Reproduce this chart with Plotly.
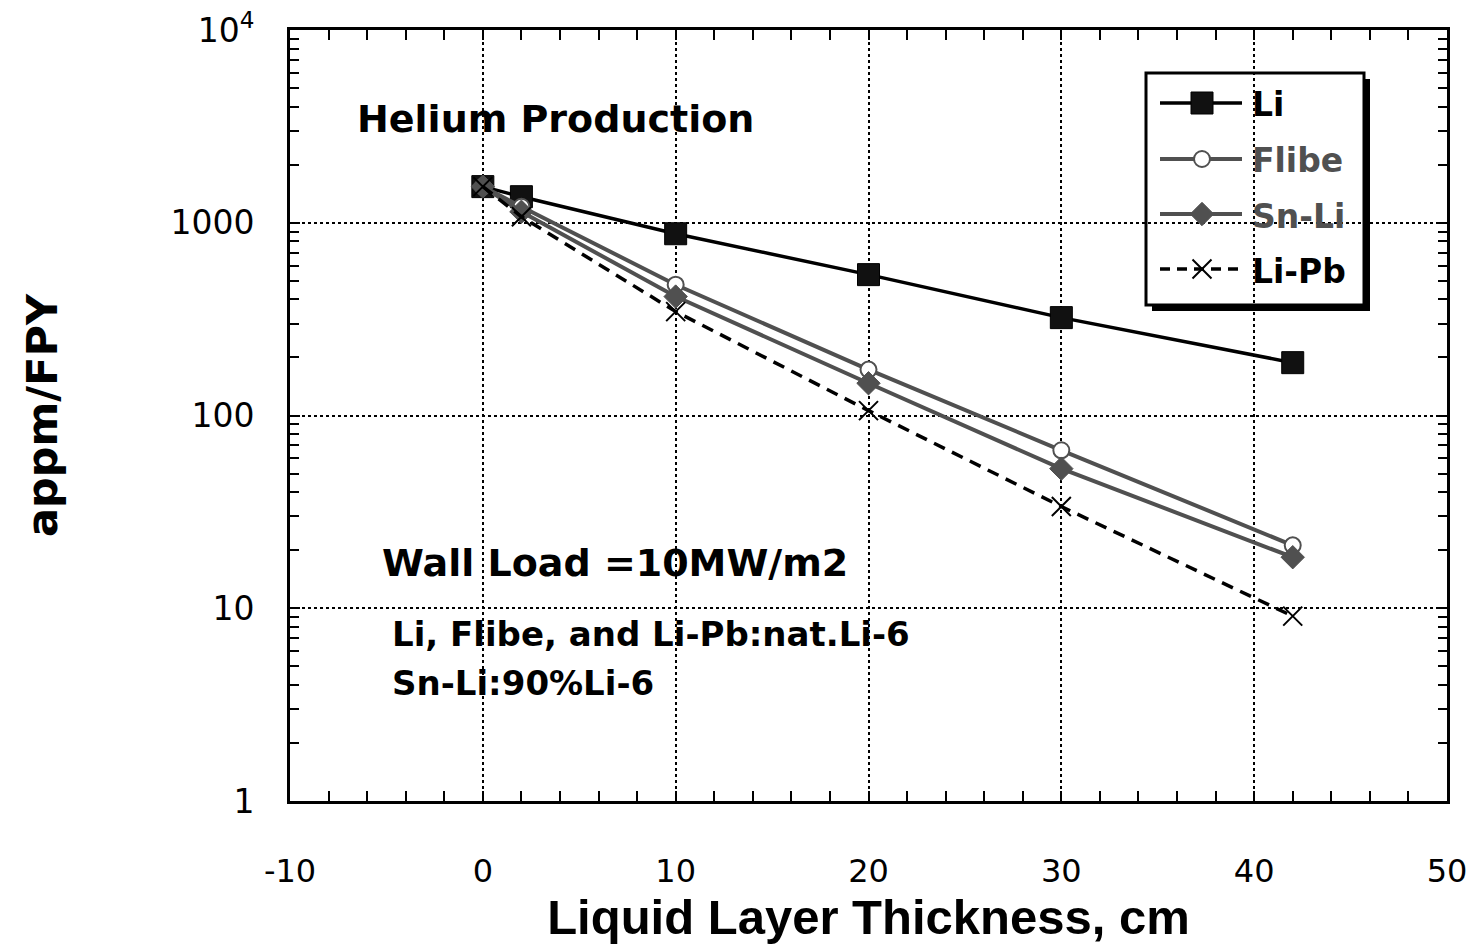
import plotly.graph_objects as go

thickness = [0, 2, 10, 20, 30, 42]
li = [1540, 1365, 877, 538, 322, 188]
flibe = [1540, 1210, 477, 173, 66, 21.2]
snli = [1540, 1140, 414, 147, 53, 18.4]
lipb = [1540, 1075, 346, 106, 33.7, 9.1]

series_names = ["Li", "Flibe", "Sn-Li", "Li-Pb"]

xtickvals = [-10, 0, 10, 20, 30, 40, 50]
xticktext = ["-10", "0", "10", "20", "30", "40", "50"]
ytickvals = [1, 10, 100, 1000, 10000]
yticktext = ["1", "10", "100", "1000", "10<sup>4</sup>"]
yminor = [m * d for d in (1, 10, 100, 1000) for m in range(2, 10)]

SANS = "Liberation Sans, Arial, sans-serif"
WIDE = "DejaVu Sans, Verdana, sans-serif"
GRAY = "#505050"

styles = [
    dict(line=dict(color="black", width=3.5),
         marker=dict(symbol="square", size=22, color="#111111", line=dict(color="black", width=1)),
         text="black"),
    dict(line=dict(color=GRAY, width=4),
         marker=dict(symbol="circle", size=16, color="white", line=dict(color=GRAY, width=2)),
         text=GRAY),
    dict(line=dict(color=GRAY, width=4),
         marker=dict(symbol="diamond", size=18, color=GRAY, line=dict(color=GRAY, width=1)),
         text=GRAY),
    dict(line=dict(color="black", width=3.5, dash="12px,8px"),
         marker=dict(symbol="x-thin", size=19, color="black", line=dict(color="black", width=2)),
         text="black"),
]

L, R, T, B = 290, 1447, 30, 801
W, H = 1475, 944


def px(xp):
    return (xp - L) / (R - L)


def py(yp):
    return (B - yp) / (B - T)


fig = go.Figure()
for name, ys, st in zip(series_names, [li, flibe, snli, lipb], styles):
    fig.add_trace(go.Scatter(x=thickness, y=ys, mode="lines+markers", name=name,
                             line=st["line"], marker=st["marker"], showlegend=False))

# ---- hand-drawn legend on an overlay axis measured in pixels ----
leg_rows = [103, 159, 214, 269]
leg_line_x = [1160, 1242]
leg_marker_x = 1202
leg_text_x = 1250
for name, row, st in zip(series_names, leg_rows, styles):
    line = dict(st["line"])
    if "dash" in line:
        line["dash"] = "10px,7px"
    fig.add_trace(go.Scatter(x=leg_line_x, y=[row, row], mode="lines", line=line,
                             xaxis="x2", yaxis="y2", showlegend=False, hoverinfo="skip"))
    fig.add_trace(go.Scatter(x=[leg_marker_x], y=[row], mode="markers", marker=st["marker"],
                             xaxis="x2", yaxis="y2", showlegend=False, hoverinfo="skip"))

annotations = []
for name, row, st in zip(series_names, leg_rows, styles):
    annotations.append(dict(text="<b>%s</b>" % name, xref="paper", yref="paper",
                            x=px(leg_text_x), y=py(row + 2),
                            xanchor="left", yanchor="middle", showarrow=False,
                            font=dict(family=WIDE, size=33, color=st["text"])))

annos = [
    dict(text="<b>Helium Production</b>", x=355, y=119, size=38),
    dict(text="<b>Wall Load =10MW/m2</b>", x=380, y=563, size=38),
    dict(text="<b>Li, Flibe, and Li-Pb:nat.Li-6</b>", x=390, y=634, size=34),
    dict(text="<b>Sn-Li:90%Li-6</b>", x=390, y=683, size=34),
]
for a in annos:
    annotations.append(dict(text=a["text"], xref="paper", yref="paper",
        x=px(a["x"]), y=py(a["y"]),
        xanchor="left", yanchor="middle", showarrow=False,
        font=dict(family=WIDE, size=a["size"], color="black")))

lx0, lx1, ly0, ly1 = 1146, 1364, 73, 305
shapes = [
    dict(type="rect", xref="paper", yref="paper",
         x0=px(lx0 + 6), x1=px(lx1 + 6), y0=py(ly1 + 6), y1=py(ly0 + 6),
         fillcolor="black", line=dict(width=0), layer="between"),
    dict(type="rect", xref="paper", yref="paper",
         x0=px(lx0), x1=px(lx1), y0=py(ly1), y1=py(ly0),
         fillcolor="white", line=dict(color="black", width=3), layer="between"),
]

tick_common = dict(showline=True, linecolor="black", linewidth=3, mirror="ticks",
                   ticks="inside", ticklen=10, tickwidth=1.5, tickcolor="black",
                   showgrid=True, gridcolor="black", griddash="dot", gridwidth=1.5,
                   zeroline=False, automargin=False)

fig.update_layout(
    width=W, height=H,
    margin=dict(l=L, r=W - R, t=T, b=H - B, autoexpand=False),
    paper_bgcolor="white", plot_bgcolor="white",
    font=dict(family=SANS, color="black", size=28),
    showlegend=False,
    annotations=annotations,
    shapes=shapes,
    xaxis=dict(range=[-10, 50], tickvals=xtickvals, ticktext=xticktext,
        minor=dict(dtick=2, ticks="inside", ticklen=10, tickwidth=1.5, tickcolor="black", showgrid=False),
        ticklabelstandoff=40, tickfont=dict(family=WIDE, size=32),
        title=dict(text="<b>Liquid Layer Thickness, cm</b>", font=dict(family=SANS, size=49), standoff=4),
        **tick_common),
    yaxis=dict(type="log", range=[0, 4], tickvals=ytickvals, ticktext=yticktext,
        minor=dict(tickvals=yminor, ticks="inside", ticklen=9, tickwidth=1.5, tickcolor="black", showgrid=False),
        ticklabelstandoff=26, tickfont=dict(family=WIDE, size=33),
        title=dict(text="<b>appm/FPY</b>", font=dict(family=WIDE, size=43), standoff=100),
        **tick_common),
    xaxis2=dict(overlaying="x", range=[L, R], visible=False, fixedrange=True),
    yaxis2=dict(overlaying="y", range=[B, T], visible=False, fixedrange=True),
)

fig.write_html("out.html")
